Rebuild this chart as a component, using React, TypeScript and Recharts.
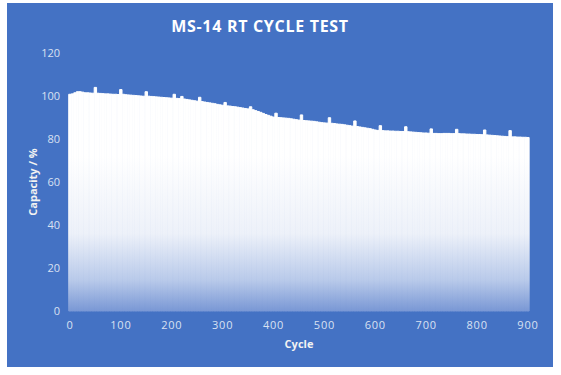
import React from "react";
import { BarChart, Bar, XAxis, YAxis } from "recharts";

const capacity = [
  100.8, 101.0, 101.5, 102.0, 102.0, 101.8, 101.5, 101.5, 101.4, 101.3,
  104.0, 101.3, 101.2, 101.1, 101.0, 101.0, 100.9, 100.8, 100.8, 100.7,
  103.0, 100.8, 100.6, 100.5, 100.4, 100.3, 100.2, 100.1, 100.0, 99.9,
  102.0, 99.9, 99.8, 99.7, 99.6, 99.5, 99.4, 99.3, 99.2, 99.1,
  99.0, 100.8, 98.9, 98.8, 99.8, 98.6, 98.4, 98.2, 98.0, 97.8,
  97.6, 99.4, 97.4, 97.2, 97.0, 96.8, 96.6, 96.4, 96.1, 95.9,
  95.7, 97.0, 95.4, 95.3, 95.1, 95.0, 94.8, 94.6, 94.4, 94.2,
  94.0, 95.0, 93.6, 93.2, 92.8, 92.4, 91.9, 91.4, 91.0, 90.6,
  90.2, 92.0, 90.0, 89.9, 89.8, 89.7, 89.6, 89.4, 89.2, 89.0,
  88.8, 91.2, 88.6, 88.5, 88.4, 88.3, 88.2, 88.0, 87.8, 87.6,
  87.5, 87.4, 89.9, 87.3, 87.2, 87.0, 86.9, 86.8, 86.6, 86.4,
  86.2, 86.0, 88.4, 85.8, 85.6, 85.4, 85.2, 85.0, 84.8, 84.5,
  84.2, 84.0, 86.2, 83.9, 83.8, 83.8, 83.7, 83.7, 83.6, 83.6,
  83.5, 83.5, 85.7, 83.4, 83.3, 83.2, 83.1, 83.0, 82.9, 82.8,
  82.8, 82.7, 84.7, 82.6, 82.6, 82.5, 82.5, 82.6, 82.6, 82.6,
  82.5, 82.5, 84.5, 82.5, 82.4, 82.4, 82.3, 82.3, 82.2, 82.2,
  82.1, 82.1, 82.0, 84.2, 81.9, 81.8, 81.7, 81.6, 81.5, 81.4,
  81.3, 81.2, 81.1, 83.9, 81.0, 81.0, 80.9, 80.9, 80.8, 80.8,
  80.7,
];
const cycleStep = 5;

const xTicks = [0, 100, 200, 300, 400, 500, 600, 700, 800, 900];
const yTicks = [0, 20, 40, 60, 80, 100, 120];

const data = capacity.map((v, i) => ({ cycle: i * cycleStep, capacity: v }));

const FONT = "'Open Sans', sans-serif";
const BG = "#4472C4";
const tickStyle = { fill: "#D9E1F2", fontSize: 11, fontFamily: FONT };

export default function App() {
  return (
    <div
      style={{
        position: "absolute",
        left: 0,
        top: 0,
        width: 561,
        height: 375,
        background: "#fff",
      }}
    >
      <div
        style={{
          position: "absolute",
          left: 7,
          top: 3,
          width: 546,
          height: 364,
          background: BG,
        }}
      >
        <div
          style={{
            position: "absolute",
            left: -20,
            top: 13,
            width: 546,
            textAlign: "center",
            color: "#fff",
            fontFamily: FONT,
            fontWeight: 700,
            fontSize: 16,
            lineHeight: "20px",
            letterSpacing: 0.7,
          }}
        >
          MS-14 RT CYCLE TEST
        </div>
        <BarChart
          width={546}
          height={364}
          data={data}
          margin={{ top: 50, right: 25, left: 0, bottom: 0 }}
          style={{ position: "absolute", left: 0, top: 0 }}
        >
          <defs>
            {/* opaque fade, bars overlap via stroke */}
            <linearGradient
              id="barFade"
              x1="0"
              y1="50"
              x2="0"
              y2="308"
              gradientUnits="userSpaceOnUse"
            >
              <stop offset="0" stopColor="#ffffff" />
              <stop offset="0.4" stopColor="#ffffff" />
              <stop offset="0.7" stopColor="#EDF1F9" />
              <stop offset="0.88" stopColor="#B9CAEA" />
              <stop offset="1" stopColor="#7A98D5" />
            </linearGradient>
          </defs>
          <XAxis
            type="number"
            dataKey="cycle"
            domain={[0, 900]}
            ticks={xTicks}
            height={56}
            axisLine={false}
            tickLine={false}
            tickSize={0}
            tickMargin={10}
            tick={{ ...tickStyle, letterSpacing: 0.8 }}
            label={{
              value: "Cycle",
              position: "insideTop",
              offset: 29,
              fill: "#F2F2F2",
              fontSize: 11,
              fontWeight: 700,
              fontFamily: FONT,
            }}
          />
          <YAxis
            domain={[0, 120]}
            ticks={yTicks}
            width={63}
            axisLine={false}
            tickLine={false}
            tickSize={0}
            tickMargin={10}
            tick={tickStyle}
            label={{
              value: "Capacity / %",
              angle: -90,
              position: "center",
              dx: -5,
              fill: "#F2F2F2",
              fontSize: 11,
              fontWeight: 700,
              fontFamily: FONT,
            }}
          />
          <Bar
            dataKey="capacity"
            fill="url(#barFade)"
            stroke="url(#barFade)"
            strokeWidth={1}
            barSize={2.4}
            isAnimationActive={false}
          />
        </BarChart>
      </div>
    </div>
  );
}
